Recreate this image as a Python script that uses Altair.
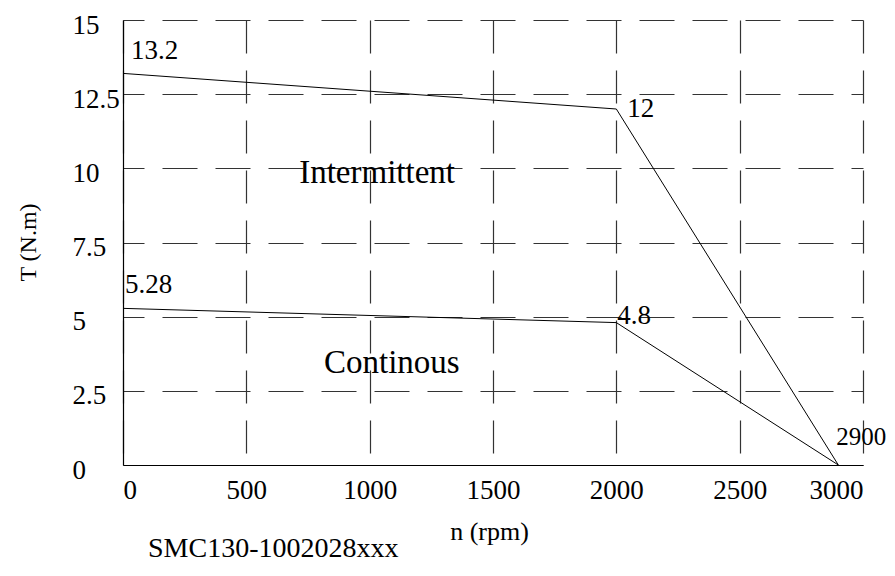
import altair as alt
import pandas as pd

# --- data ---
speed = [0, 2000, 2900]
torque_peak = [13.2, 12, 0]          # Intermittent
torque_cont = [5.28, 4.8, 0]         # Continous
x_ticks = [0, 500, 1000, 1500, 2000, 2500, 3000]
y_ticks = [0, 2.5, 5, 7.5, 10, 12.5, 15]
region_names = ["Intermittent", "Continous"]
region_x = [1030, 1090]
region_y = [9.85, 3.45]

FONT = "Liberation Serif"

peak = pd.DataFrame({"n": speed, "T": torque_peak})
cont = pd.DataFrame({"n": speed, "T": torque_cont})

xs = alt.Scale(domain=[0, 3000], nice=False, zero=False)
ys = alt.Scale(domain=[0, 15], nice=False, zero=False)

x_axis = alt.Axis(values=x_ticks, title="n (rpm)", grid=True, gridColor="#333333",
                  gridWidth=1.2, gridDash=[33, 17], gridDashOffset=0,
                  ticks=False, tickSize=0, domainColor="#000000", domainWidth=1.2,
                  labelFont=FONT, labelFontSize=27, labelColor="#000000",
                  labelBaseline="top", labelPadding=12, labelExpr="datum.value + ''",
                  titleFont=FONT, titleFontSize=26, titleFontWeight="normal",
                  titleColor="#000000", titleX=366, titleY=66, titleBaseline="middle",
                  titleAlign="center")
y_axis = alt.Axis(values=y_ticks, title="T (N.m)", grid=True, gridColor="#333333",
                  gridWidth=1.2, gridDash=[35, 18], gridDashOffset=14,
                  ticks=False, tickSize=0, domainColor="#000000", domainWidth=1.2,
                  labelFont=FONT, labelFontSize=27, labelColor="#000000",
                  labelAlign="left", labelBaseline="middle", labelPadding=51,
                  labelOffset=5, labelExpr="datum.value + ''",
                  titleFont=FONT, titleFontSize=24, titleFontWeight="normal",
                  titleColor="#000000", titleX=-95, titleY=222, titleAngle=270,
                  titleBaseline="middle", titleAlign="center")

line_peak = alt.Chart(peak).mark_line(color="#000000", strokeWidth=1).encode(
    x=alt.X("n:Q", scale=xs, axis=x_axis),
    y=alt.Y("T:Q", scale=ys, axis=y_axis),
)
line_cont = alt.Chart(cont).mark_line(color="#000000", strokeWidth=1).encode(
    x=alt.X("n:Q", scale=xs), y=alt.Y("T:Q", scale=ys)
)


def point_label(df_row, dx, dy, size=27):
    d = pd.DataFrame([df_row])
    return alt.Chart(d).mark_text(font=FONT, fontSize=size, color="#000000",
                                  align="left", baseline="middle", dx=dx, dy=dy).encode(
        x=alt.X("n:Q", scale=xs), y=alt.Y("T:Q", scale=ys), text="label:N")


lab_132 = point_label({"n": speed[0], "T": torque_peak[0], "label": str(torque_peak[0])}, 8, -22)
lab_12 = point_label({"n": speed[1], "T": torque_peak[1], "label": str(torque_peak[1])}, 11, 0)
lab_528 = point_label({"n": speed[0], "T": torque_cont[0], "label": str(torque_cont[0])}, 2, -23)
lab_48 = point_label({"n": speed[1], "T": torque_cont[1], "label": str(torque_cont[1])}, 1, -7)
lab_2900 = point_label({"n": speed[2], "T": 0, "label": str(speed[2])}, -2, -28, size=25)

regions = pd.DataFrame({"name": region_names, "n": region_x, "T": region_y})
region_text = alt.Chart(regions).mark_text(font=FONT, fontSize=33, color="#000000",
                                           align="center", baseline="middle").encode(
    x=alt.X("n:Q", scale=xs), y=alt.Y("T:Q", scale=ys), text="name:N")

chart = alt.layer(
    line_peak, line_cont, lab_132, lab_12, lab_528, lab_48, lab_2900, region_text
).properties(
    width=740, height=445,
    autosize=alt.AutoSizeParams(type="none"),
    padding={"left": 115, "top": 12, "right": 24, "bottom": 102},
    title=alt.TitleParams(text="SMC130-1002028xxx", orient="bottom", anchor="start",
                          frame="group", dx=25, offset=0, dy=-9, font=FONT, fontSize=28,
                          fontWeight="normal", color="#000000"),
).configure_view(stroke=None)

chart.save("out.html", embed_options={"renderer": "svg", "actions": False})
